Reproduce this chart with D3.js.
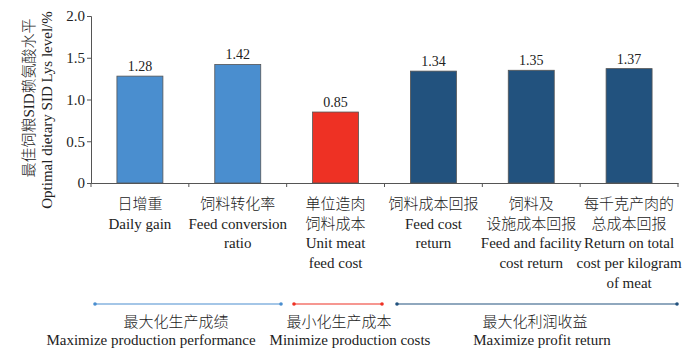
<!DOCTYPE html>
<html lang="zh">
<head>
<meta charset="UTF-8">
<title>最佳饲粮SID赖氨酸水平</title>
<style>
  body { margin: 0; overflow: hidden; background: #fff; }
  text { font-family: "Liberation Serif", "Noto Sans CJK SC", serif; fill: #222; }
  text.zh { font-weight: 300; }
</style>
</head>
<body>
<script src="https://cdnjs.cloudflare.com/ajax/libs/d3/7.8.2/d3.min.js"></script>
<script>
// data
const catZh = [["日增重"], ["饲料转化率"], ["单位造肉", "饲料成本"], ["饲料成本回报"], ["饲料及", "设施成本回报"], ["每千克产肉的", "总成本回报"]];
const catEn = [["Daily gain"], ["Feed conversion", "ratio"], ["Unit meat", "feed cost"], ["Feed cost", "return"], ["Feed and facility", "cost return"], ["Return on total", "cost per kilogram", "of meat"]];
const values = [1.28, 1.42, 0.85, 1.34, 1.35, 1.37];
const groupOf = [0, 0, 1, 2, 2, 2];
const yTicks = [0, 0.5, 1.0, 1.5, 2.0];
const groupZh = ["最大化生产成绩", "最小化生产成本", "最大化利润收益"];
const groupEn = ["Maximize production performance", "Minimize production costs", "Maximize profit return"];
const groupColors = ["#4a8ecf", "#ee3124", "#22527e"];

const W = 700, H = 353;
const x0 = 91, x1 = 678, yBase = 183, yTop = 16;

const svg = d3.select("body").append("svg").attr("width", W).attr("height", H);

const x = d3.scaleBand().domain(d3.range(values.length)).range([x0, x1]).paddingInner(0.53).paddingOuter(0.265);
const xt = d3.scaleBand().domain(d3.range(values.length)).range([x0, x1]);
const y = d3.scaleLinear().domain([0, 2]).range([yBase, yTop]);

// bars
svg.append("g").selectAll("rect")
  .data(values)
  .join("rect")
  .attr("x", (d, i) => x(i))
  .attr("y", d => y(d))
  .attr("width", x.bandwidth())
  .attr("height", d => yBase - y(d))
  .attr("fill", (d, i) => groupColors[groupOf[i]])
  .attr("stroke", "#555")
  .attr("stroke-width", 0.8);

// value labels
svg.append("g").selectAll("text")
  .data(values)
  .join("text")
  .attr("x", (d, i) => x(i) + x.bandwidth() / 2)
  .attr("y", d => y(d) - 5)
  .attr("text-anchor", "middle")
  .style("font-size", "14px")
  .text(d => d.toFixed(2));

// y axis
const yAxis = svg.append("g").attr("transform", `translate(${x0},0)`)
  .call(d3.axisLeft(y).tickValues(yTicks).tickSize(4).tickFormat(d => d === 0 ? "0" : d.toFixed(1)));
yAxis.select(".domain").attr("stroke", "#555");
yAxis.selectAll(".tick line").attr("stroke", "#555");
yAxis.selectAll("text").style("font-size", "15px").attr("fill", "#222")
  .style("font-family", "Liberation Serif").attr("x", -6);

// x axis
const xAxis = svg.append("g").attr("transform", `translate(0,${yBase})`)
  .call(d3.axisBottom(xt).tickSize(0).tickFormat(""));
xAxis.select(".domain").attr("stroke", "#555");
xAxis.selectAll(".tick").remove();
svg.append("g").selectAll("line")
  .data(d3.range(values.length + 1))
  .join("line")
  .attr("x1", i => i < values.length ? xt(i) : xt.range()[1])
  .attr("x2", i => i < values.length ? xt(i) : xt.range()[1])
  .attr("y1", yBase).attr("y2", yBase + 4)
  .attr("stroke", "#555");

// category labels
const cats = svg.append("g");
catZh.forEach((zh, i) => {
  const cx = xt(i) + xt.bandwidth() / 2;
  const lines = zh.map(t => [t, "zh"]).concat(catEn[i].map(t => [t, "en"]));
  lines.forEach(([t, cls], k) => {
    cats.append("text")
      .attr("class", cls)
      .attr("x", cx)
      .attr("y", 209 + k * 19.7)
      .attr("text-anchor", "middle")
      .style("font-size", "15px")
      .text(t);
  });
});

// y title
svg.append("text")
  .attr("class", "zh")
  .attr("transform", "translate(34,98) rotate(-90)")
  .attr("text-anchor", "middle")
  .style("font-size", "15px")
  .text("最佳饲粮SID赖氨酸水平");
svg.append("text")
  .attr("transform", "translate(52,110) rotate(-90)")
  .attr("text-anchor", "middle")
  .style("font-size", "15px")
  .text("Optimal dietary SID Lys level/%");

// group brackets
const gLineY = 304;
const gx = [[95, 281], [294, 382], [397, 677]];
const gZhX = [176, 339, 535];
const gEnX = [151, 350, 542];
const grp = svg.append("g");
gx.forEach((s, i) => {
  grp.append("line")
    .attr("x1", s[0]).attr("x2", s[1])
    .attr("y1", gLineY).attr("y2", gLineY)
    .attr("stroke", groupColors[i]).attr("stroke-width", 1.2);
  s.forEach(px => grp.append("circle").attr("cx", px).attr("cy", gLineY).attr("r", 1.8).attr("fill", groupColors[i]));
  grp.append("text").attr("class", "zh").attr("x", gZhX[i]).attr("y", 327).attr("text-anchor", "middle")
    .style("font-size", "15px").text(groupZh[i]);
  grp.append("text").attr("x", gEnX[i]).attr("y", 345).attr("text-anchor", "middle")
    .style("font-size", "15px").text(groupEn[i]);
});
</script>
</body>
</html>
